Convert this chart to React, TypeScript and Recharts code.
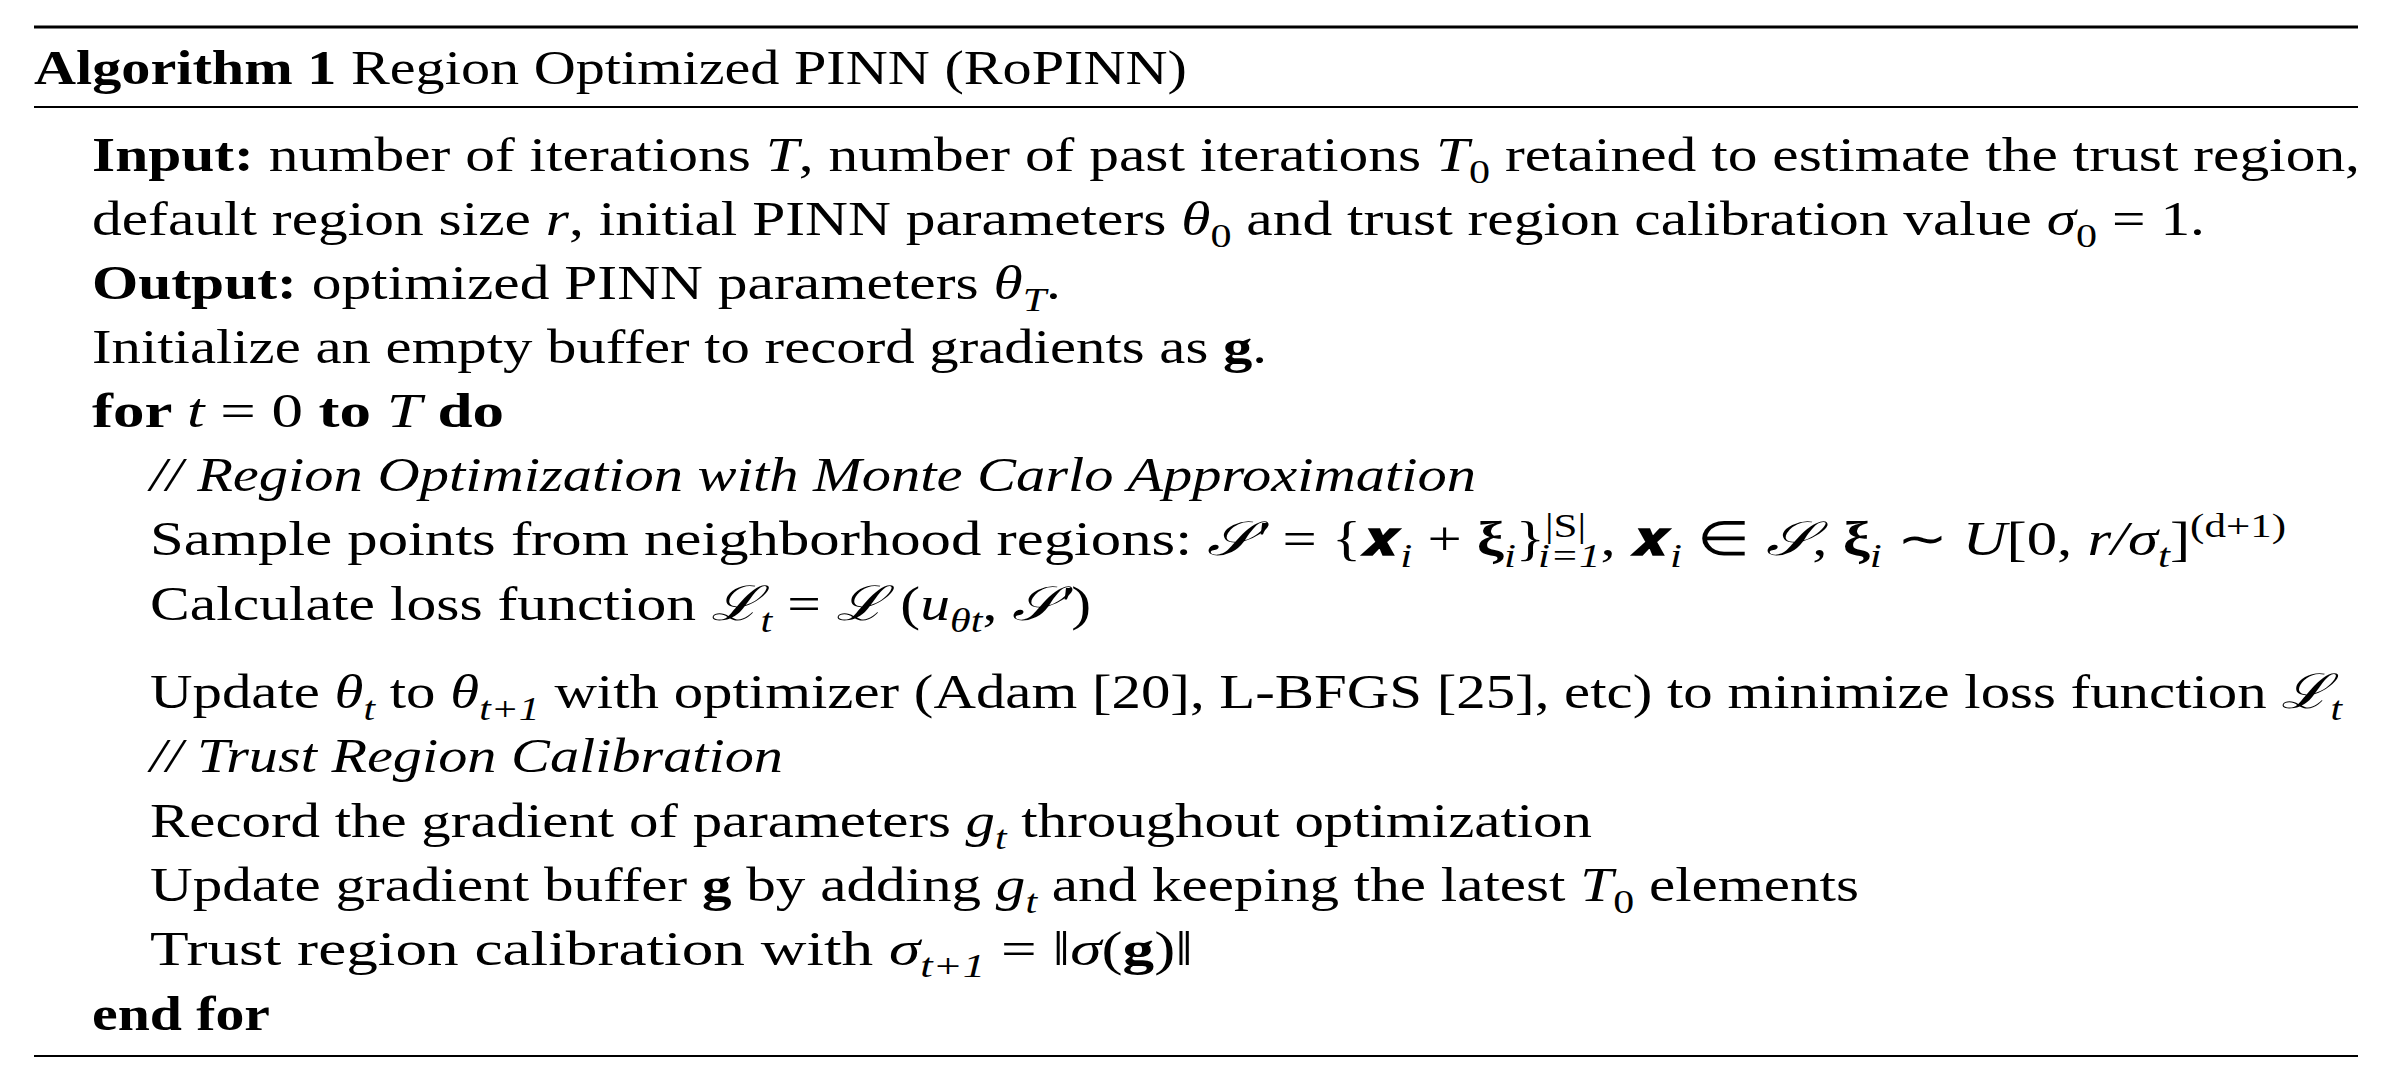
import React from "react";
import { Surface } from "recharts";

type Seg = { t: string; b?: boolean; i?: boolean; sub?: boolean; sup?: boolean; dx?: number };

const W = 2392;
const H = 1076;
const RULES = [{ y: 27, w: 3 }, { y: 107, w: 2 }, { y: 1056, w: 2 }];

const S = (t: string): Seg => ({ t });
const B = (t: string): Seg => ({ t, b: true });
const I = (t: string): Seg => ({ t, i: true });
const SUB = (t: string, dx?: number): Seg => ({ t, sub: true, i: true, dx });
const SUBN = (t: string): Seg => ({ t, sub: true });
const SUP = (t: string): Seg => ({ t, sup: true });

const TITLE: Seg[] = [B("Algorithm 1 "), S("Region Optimized PINN (RoPINN)")];

const LINES: { x: number; y: number; len: number; segs: Seg[] }[] = [
  { x: 92, y: 171, len: 2268, segs: [B("Input: "), S("number of iterations "), I("T"), S(", number of past iterations "), I("T"), SUBN("0"), S(" retained to estimate the trust region,")] },
  { x: 92, y: 235, len: 2113, segs: [S("default region size "), I("r"), S(", initial PINN parameters "), I("θ"), SUBN("0"), S(" and trust region calibration value "), I("σ"), SUBN("0"), S(" = 1.")] },
  { x: 92, y: 299, len: 969, segs: [B("Output: "), S("optimized PINN parameters "), I("θ"), SUB("T"), S(".")] },
  { x: 92, y: 363, len: 1175, segs: [S("Initialize an empty buffer to record gradients as "), B("g"), S(".")] },
  { x: 92, y: 427, len: 412, segs: [B("for "), I("t"), S(" = 0 "), B("to "), I("T"), B(" do")] },
  { x: 150, y: 491, len: 1326, segs: [I("// Region Optimization with Monte Carlo Approximation")] },
  { x: 150, y: 555, len: 2136, segs: [S("Sample points from neighborhood regions: "), I("𝒮′"), S(" = {"), B("𝒙"), SUB("i"), S(" + "), B("ξ"), SUB("i"), S("}"), SUP("|S|"), SUB("i=1", -38), S(", "), B("𝒙"), SUB("i"), S(" ∈ "), I("𝒮"), S(", "), B("ξ"), SUB("i"), S(" ∼ "), I("U"), S("[0, "), I("r/σ"), SUB("t"), S("]"), SUP("(d+1)")] },
  { x: 150, y: 620, len: 941, segs: [S("Calculate loss function "), I("ℒ"), SUB("t"), S(" = "), I("ℒ"), S(" ("), I("u"), SUB("θt"), S(", "), I("𝒮′"), S(")")] },
  { x: 150, y: 708, len: 2192, segs: [S("Update "), I("θ"), SUB("t"), S(" to "), I("θ"), SUB("t+1"), S(" with optimizer (Adam [20], L-BFGS [25], etc) to minimize loss function "), I("ℒ"), SUB("t")] },
  { x: 150, y: 772, len: 633, segs: [I("// Trust Region Calibration")] },
  { x: 150, y: 837, len: 1442, segs: [S("Record the gradient of parameters "), I("g"), SUB("t"), S(" throughout optimization")] },
  { x: 150, y: 901, len: 1709, segs: [S("Update gradient buffer "), B("g"), S(" by adding "), I("g"), SUB("t"), S(" and keeping the latest "), I("T"), SUBN("0"), S(" elements")] },
  { x: 150, y: 965, len: 1043, segs: [S("Trust region calibration with "), I("σ"), SUB("t+1"), S(" = ‖"), I("σ"), S("("), B("g"), S(")‖")] },
  { x: 92, y: 1030, len: 178, segs: [B("end for")] },
];

function Line({ x, y, len, segs }: { x: number; y: number; len: number; segs: Seg[] }) {
  let shift = 0;
  return (
    <text x={x} y={y} textLength={len} lengthAdjust="spacingAndGlyphs" fontFamily="'Liberation Serif', 'Times New Roman', serif" fontSize={48} fill="#000">
      {segs.map((s, k) => {
        const target = s.sub ? 12 : s.sup ? -18 : 0;
        const dy = target - shift;
        shift = target;
        return (
          <tspan
            key={k}
            dy={dy}
            dx={s.dx}
            fontWeight={s.b ? "bold" : "normal"}
            fontStyle={s.i ? "italic" : "normal"}
            fontSize={s.sub || s.sup ? 34 : 48}
          >
            {s.t}
          </tspan>
        );
      })}
    </text>
  );
}

export default function App() {
  return (
    <div style={{ position: "fixed", left: 0, top: 0, width: W, height: H, background: "#fff" }}>
      <Surface width={W} height={H}>
        {RULES.map((r, k) => (
          <line key={k} x1={34} x2={2358} y1={r.y} y2={r.y} stroke="#000" strokeWidth={r.w} />
        ))}
        <Line x={34} y={84} len={1153} segs={TITLE} />
        {LINES.map((l, k) => (
          <Line key={k} {...l} />
        ))}
      </Surface>
    </div>
  );
}
